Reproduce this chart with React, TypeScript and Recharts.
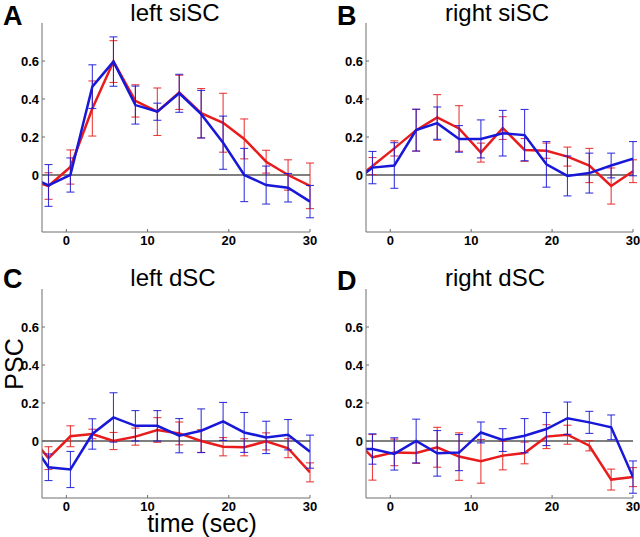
import { LineChart, Line, XAxis, YAxis, ErrorBar, ReferenceLine } from 'recharts'

// sample times (sec); first point sits left of the visible window
const times = [-4.9, -2.2, 0.5, 3.2, 5.8, 8.5, 11.2, 13.9, 16.6, 19.3, 21.9, 24.6, 27.3, 30.0]

const leftSiRed = [-0.02, -0.058, 0.042, 0.35, 0.597, 0.39, 0.333, 0.435, 0.325, 0.275, 0.19, 0.07, 0.0, -0.057]
const leftSiRedErr = [null, 0.07, 0.09, 0.145, 0.11, 0.085, 0.125, 0.09, 0.13, 0.155, 0.105, 0.06, 0.08, 0.12]
const leftSiBlue = [0.0, -0.055, 0.0, 0.465, 0.597, 0.368, 0.333, 0.43, 0.32, 0.17, 0.0, -0.053, -0.067, -0.14]
const leftSiBlueErr = [null, 0.11, 0.09, 0.115, 0.13, 0.1, 0.045, 0.1, 0.125, 0.14, 0.14, 0.1, 0.075, 0.085]

const rightSiRed = [-0.04, 0.047, 0.14, 0.236, 0.303, 0.245, 0.118, 0.247, 0.132, 0.128, 0.097, 0.05, -0.058, 0.02]
const rightSiRedErr = [null, 0.045, 0.04, 0.11, 0.12, 0.12, 0.05, 0.06, 0.06, 0.04, 0.05, 0.09, 0.095, 0.06]
const rightSiBlue = [-0.05, 0.039, 0.05, 0.236, 0.273, 0.19, 0.19, 0.22, 0.21, 0.056, -0.005, 0.01, 0.05, 0.086]
const rightSiBlueErr = [null, 0.085, 0.12, 0.11, 0.085, 0.07, 0.1, 0.12, 0.135, 0.12, 0.105, 0.105, 0.065, 0.09]

const leftDRed = [0.05, -0.09, 0.025, 0.037, 0.0, 0.023, 0.058, 0.04, 0.0, -0.03, -0.033, -0.002, -0.038, -0.165]
const leftDRedErr = [null, 0.06, 0.055, 0.025, 0.045, 0.045, 0.065, 0.06, 0.06, 0.048, 0.045, 0.045, 0.05, 0.05]
const leftDBlue = [0.03, -0.138, -0.15, 0.037, 0.124, 0.08, 0.08, 0.028, 0.054, 0.103, 0.045, 0.019, 0.033, -0.056]
const leftDBlueErr = [null, 0.07, 0.095, 0.08, 0.13, 0.08, 0.08, 0.09, 0.115, 0.1, 0.105, 0.085, 0.08, 0.087]

const rightDRed = [0.03, -0.086, -0.06, -0.063, -0.033, -0.082, -0.107, -0.077, -0.063, 0.023, 0.033, -0.025, -0.203, -0.19]
const rightDRedErr = [null, 0.12, 0.07, 0.055, 0.105, 0.125, 0.115, 0.075, 0.057, 0.063, 0.05, 0.027, 0.055, 0.05]
const rightDBlue = [-0.042, -0.042, -0.068, 0.0, -0.065, -0.061, 0.045, 0.005, 0.028, 0.063, 0.12, 0.098, 0.072, -0.19]
const rightDBlueErr = [null, 0.08, 0.085, 0.115, 0.12, 0.095, 0.055, 0.06, 0.09, 0.087, 0.085, 0.058, 0.065, 0.085]

const xTicks = [0, 10, 20, 30]
const yTicks = [0, 0.2, 0.4, 0.6]

const RED = '#e81c1c'
const BLUE = '#1818d8'
const AXIS = '#6e6e6e'
const FONT = '"Liberation Sans", Arial, sans-serif'

type PanelProps = {
  red: (number | null)[]
  redErr: (number | null)[]
  blue: (number | null)[]
  blueErr: (number | null)[]
  left: number
  top: number
  yAxisWidth: number
  marginTop: number
  marginRight: number
  xAxisHeight: number
}

function Panel({ red, redErr, blue, blueErr, left, top, yAxisWidth, marginTop, marginRight, xAxisHeight }: PanelProps) {
  const data = times.map((t, i) => ({ t, r: red[i], re: redErr[i], b: blue[i], be: blueErr[i] }))
  const tickStyle = { fill: '#000', fontSize: 13, fontWeight: 700, fontFamily: FONT }
  return (
    <div style={{ position: 'absolute', left, top }}>
      <LineChart width={320} height={260} data={data} margin={{ top: marginTop, right: marginRight, bottom: 0, left: 0 }}>
        <XAxis
          type="number"
          dataKey="t"
          domain={[-3, 30]}
          ticks={xTicks}
          allowDataOverflow
          height={xAxisHeight}
          stroke={AXIS}
          tickSize={-3}
          tickMargin={7}
          tick={tickStyle}
        />
        <YAxis
          type="number"
          domain={[-0.3, 0.8]}
          ticks={yTicks}
          allowDataOverflow
          width={yAxisWidth}
          stroke={AXIS}
          tickSize={-3}
          tickMargin={6}
          tick={tickStyle}
          tickFormatter={(v: number) => (v === 0 ? '0' : v.toFixed(1))}
        />
        <ReferenceLine y={0} stroke="#000" strokeWidth={1.2} />
        <Line type="linear" dataKey="r" stroke={RED} strokeWidth={2.5} dot={false} isAnimationActive={false}>
          <ErrorBar dataKey="re" width={4} stroke={RED} strokeWidth={1.1} strokeOpacity={0.85} isAnimationActive={false} />
        </Line>
        <Line type="linear" dataKey="b" stroke={BLUE} strokeWidth={2.5} dot={false} isAnimationActive={false}>
          <ErrorBar dataKey="be" width={4} stroke={BLUE} strokeWidth={1.1} strokeOpacity={0.85} isAnimationActive={false} />
        </Line>
      </LineChart>
    </div>
  )
}

export default function App() {
  return (
    <div style={{ position: 'absolute', left: 0, top: 0, width: 640, height: 537, background: '#fff' }}>
      <Panel red={leftSiRed} redErr={leftSiRedErr} blue={leftSiBlue} blueErr={leftSiBlueErr}
        left={0} top={0} yAxisWidth={42} marginTop={23} marginRight={10} xAxisHeight={28} />
      <Panel red={rightSiRed} redErr={rightSiRedErr} blue={rightSiBlue} blueErr={rightSiBlueErr}
        left={320} top={0} yAxisWidth={46} marginTop={23} marginRight={7} xAxisHeight={28} />
      <Panel red={leftDRed} redErr={leftDRedErr} blue={leftDBlue} blueErr={leftDBlueErr}
        left={0} top={260} yAxisWidth={42} marginTop={29} marginRight={10} xAxisHeight={22} />
      <Panel red={rightDRed} redErr={rightDRedErr} blue={rightDBlue} blueErr={rightDBlueErr}
        left={320} top={260} yAxisWidth={46} marginTop={29} marginRight={7} xAxisHeight={22} />
      <svg width={640} height={537} style={{ position: 'absolute', left: 0, top: 0, pointerEvents: 'none' }}>
        <g fontFamily={FONT} fill="#000">
          <text x={3} y={25} fontSize={27} fontWeight={700}>A</text>
          <text x={337} y={25} fontSize={27} fontWeight={700}>B</text>
          <text x={3} y={288} fontSize={27} fontWeight={700}>C</text>
          <text x={337} y={290} fontSize={27} fontWeight={700}>D</text>
          <text x={175} y={21} fontSize={24} textAnchor="middle">left siSC</text>
          <text x={497} y={21} fontSize={24} textAnchor="middle">right siSC</text>
          <text x={173} y={286} fontSize={24} textAnchor="middle">left dSC</text>
          <text x={495} y={286} fontSize={24} textAnchor="middle">right dSC</text>
          <text x={23} y={364} fontSize={25} textAnchor="middle" transform="rotate(-90 23 364)">PSC</text>
          <text x={202} y={532} fontSize={25} textAnchor="middle">time (sec)</text>
        </g>
      </svg>
    </div>
  )
}
